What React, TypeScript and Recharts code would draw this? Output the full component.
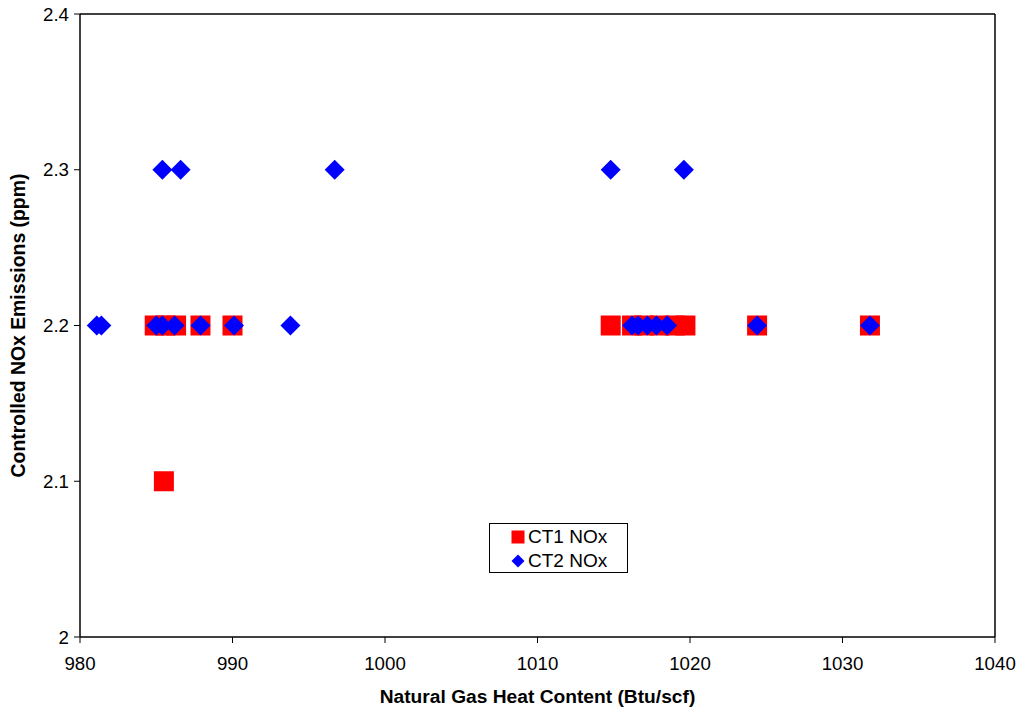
import { ScatterChart, Scatter, XAxis, YAxis, ReferenceLine, Legend } from "recharts";

// Heat content (Btu/scf) and controlled NOx (ppm) for each turbine
const ct1Heat = [984.9, 985.6, 986.3, 987.9, 990.0, 1014.8, 1016.2, 1017.0, 1018.0, 1019.0, 1019.7, 1024.4, 1031.8, 985.5];
const ct1Nox = [2.2, 2.2, 2.2, 2.2, 2.2, 2.2, 2.2, 2.2, 2.2, 2.2, 2.2, 2.2, 2.2, 2.1];

const ct2Heat = [
  981.1, 981.4, 985.0, 985.4, 986.2, 987.9, 990.1, 993.8, 1016.2, 1016.6, 1017.2, 1017.8, 1018.5, 1024.4, 1031.8,
  985.4, 986.6, 996.7, 1014.8, 1019.6,
];
const ct2Nox = [
  2.2, 2.2, 2.2, 2.2, 2.2, 2.2, 2.2, 2.2, 2.2, 2.2, 2.2, 2.2, 2.2, 2.2, 2.2,
  2.3, 2.3, 2.3, 2.3, 2.3,
];

const xTicks = [980, 990, 1000, 1010, 1020, 1030, 1040];
const yTicks = [2, 2.1, 2.2, 2.3, 2.4];

const ct1Data = ct1Heat.map((heat, i) => ({ heat, nox: ct1Nox[i] }));
const ct2Data = ct2Heat.map((heat, i) => ({ heat, nox: ct2Nox[i] }));

const FONT = "Arial, 'Liberation Sans', sans-serif";
const RED = "#ff0000";
const BLUE = "#0000ff";

const SquareMark = (props: any) => {
  const { cx, cy } = props;
  return <rect x={cx - 10} y={cy - 10} width={20} height={20} fill={RED} />;
};

const DiamondMark = (props: any) => {
  const { cx, cy } = props;
  return (
    <polygon
      points={`${cx},${cy - 10} ${cx + 10},${cy} ${cx},${cy + 10} ${cx - 10},${cy}`}
      fill={BLUE}
    />
  );
};

const renderLegend = (props: any) => (
  <div
    style={{
      border: "1px solid #000",
      background: "#fff",
      padding: "1px 0 0 21px",
      fontFamily: FONT,
      fontSize: 19,
      color: "#000",
      boxSizing: "border-box",
      width: 139,
      height: 50,
    }}
  >
    {(props.payload || []).map((entry: any) => (
      <div key={entry.value} style={{ display: "flex", alignItems: "center", height: 24 }}>
        <svg width={14} height={14} style={{ marginRight: 3 }}>
          {entry.type === "diamond" ? (
            <polygon points="7,0.5 13.5,7 7,13.5 0.5,7" fill={BLUE} />
          ) : (
            <rect x={0.5} y={0.5} width={13} height={13} fill={RED} />
          )}
        </svg>
        <span>{entry.value}</span>
      </div>
    ))}
  </div>
);

const App = () => {
  return (
    <div style={{ position: "absolute", left: 0, top: 0, background: "#fff", fontFamily: FONT }}>
      <ScatterChart
        width={1021}
        height={712}
        margin={{ top: 14, right: 26, bottom: 45, left: 20 }}
      >
        <XAxis
          type="number"
          dataKey="heat"
          domain={[980, 1040]}
          ticks={xTicks}
          allowDataOverflow
          axisLine={{ stroke: "#000", strokeWidth: 1.5 }}
          tickLine={{ stroke: "#000" }}
          tickSize={6}
          tickMargin={14}
          height={30}
          tick={{ fill: "#000", fontSize: 18.7, fontFamily: FONT }}
          label={{
            value: "Natural Gas Heat Content (Btu/scf)",
            position: "center",
            dy: 44,
            style: { fontSize: 19.2, fontWeight: "bold", fill: "#000", fontFamily: FONT },
          }}
        />
        <YAxis
          type="number"
          dataKey="nox"
          domain={[2, 2.4]}
          ticks={yTicks}
          allowDataOverflow
          width={60}
          axisLine={{ stroke: "#000", strokeWidth: 1.5 }}
          tickLine={{ stroke: "#000" }}
          tickSize={6}
          tickMargin={5}
          tick={{ fill: "#000", fontSize: 18.7, fontFamily: FONT }}
          label={{
            value: "Controlled NOx Emissions (ppm)",
            angle: -90,
            position: "center",
            dx: -32,
            style: { fontSize: 19.4, fontWeight: "bold", fill: "#000", fontFamily: FONT, textAnchor: "middle" },
          }}
        />
        {/* close the plot frame on top and right */}
        <ReferenceLine y={2.4} stroke="#000" strokeWidth={1.5} />
        <ReferenceLine x={1040} stroke="#000" strokeWidth={1.5} />
        <Scatter
          name="CT1 NOx"
          data={ct1Data}
          legendType="square"
          shape={SquareMark}
          isAnimationActive={false}
        />
        <Scatter
          name="CT2 NOx"
          data={ct2Data}
          legendType="diamond"
          shape={DiamondMark}
          isAnimationActive={false}
        />
        <Legend
          layout="vertical"
          align="center"
          verticalAlign="middle"
          content={renderLegend}
          wrapperStyle={{ left: 489, top: 523, width: 139, height: 50 }}
        />
      </ScatterChart>
    </div>
  );
};

export default App;
